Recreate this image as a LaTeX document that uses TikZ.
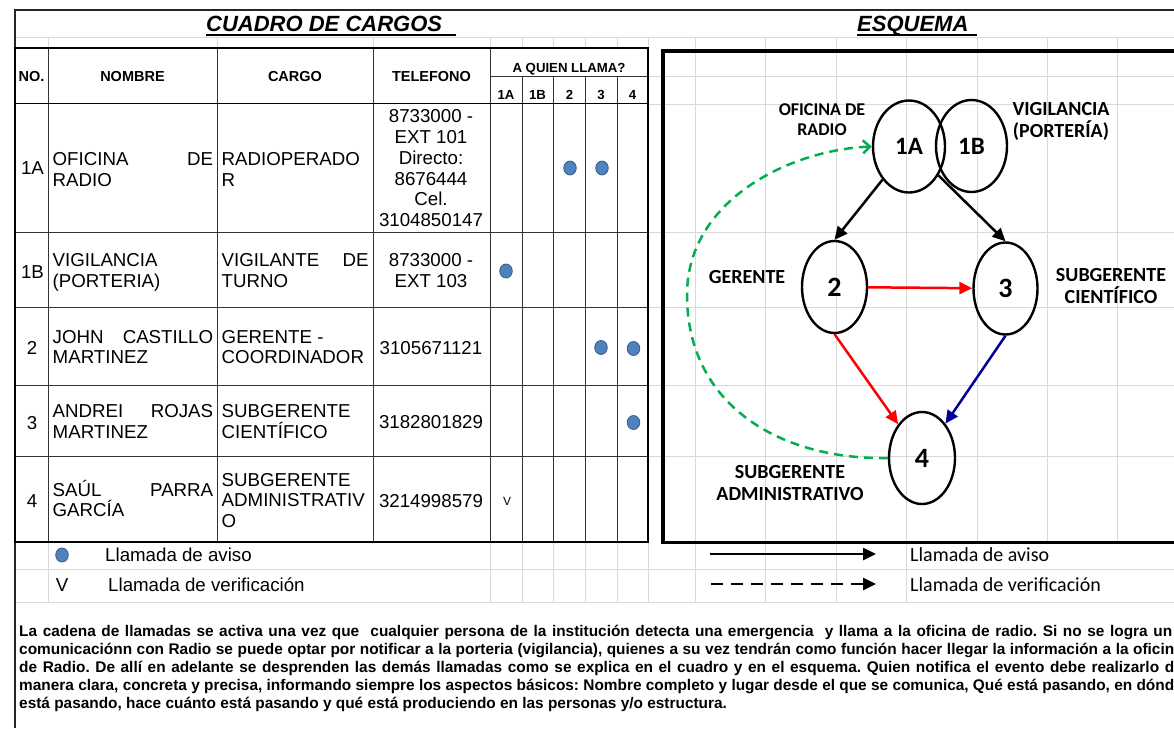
\documentclass[tikz,border=0pt]{standalone}
\usepackage{fontspec}
\setmainfont{Liberation Sans}
\newfontfamily\calibri{Carlito}
\usetikzlibrary{shapes.geometric,arrows.meta}
\frenchspacing
\definecolor{gridc}{HTML}{D9D9D9}
\definecolor{dotf}{HTML}{4F81BD}
\definecolor{dotd}{HTML}{385D8A}
\definecolor{greenc}{HTML}{00B050}
\definecolor{navyc}{HTML}{000099}
\tikzset{
  gridl/.style={draw=gridc, line width=0.9pt},
  tb/.style={draw=black, line width=1.8pt},
  ti/.style={draw=black!80, line width=1pt},
  body/.style={inner sep=0pt, font=\fontsize{18.7}{20.8}\selectfont},
  hdr/.style={inner sep=0pt, font=\bfseries\fontsize{14.5}{16}\selectfont},
  subh/.style={inner sep=0pt, font=\bfseries\fontsize{13.2}{15}\selectfont},
  ttl/.style={inner sep=0pt, font=\bfseries\itshape\fontsize{22}{24}\selectfont},
  calldot/.style={ellipse, fill=dotf, draw=dotd, line width=0.8pt, minimum width=12.6pt, minimum height=14pt, inner sep=0pt},
  elli/.style={ellipse, draw=black, line width=2.4pt, inner sep=0pt},
  onef/.style={font=\calibri\bfseries\fontsize{25}{28}\selectfont},
  numf/.style={font=\calibri\bfseries\fontsize{28}{30}\selectfont},
  lbl/.style={inner sep=0pt, font=\calibri\bfseries\fontsize{20}{22}\selectfont},
  lbls/.style={inner sep=0pt, font=\calibri\bfseries\fontsize{18}{20}\selectfont},
  leg/.style={inner sep=0pt, font=\calibri\fontsize{20}{22}\selectfont},
  para/.style={inner sep=0pt, font=\bfseries\fontsize{15.4}{18}\selectfont},
  arr/.style={line width=2.5pt, -{Triangle[length=13pt,width=12pt]}},
  greenarr/.style={draw=greenc, line width=2.5pt, dash pattern=on 9pt off 6pt, -{Straight Barb[length=7pt,width=13pt]}},
}
\begin{document}
\begin{tikzpicture}[x=1pt,y=-1pt]
\useasboundingbox (0,0) rectangle (1174,728);
\clip (0,0) rectangle (1174,728);
\fill[white] (0,0) rectangle (1174,728);

% spreadsheet grid
\draw[gridl] (15,37) -- (1174,37);
\foreach \y in {76,104,232,307,385,456} \draw[gridl] (648,\y) -- (1174,\y);
\draw[gridl] (15,569) -- (1174,569);
\draw[gridl] (15,602) -- (1174,602);
\foreach \x in {48,217,373,490,522,553,585,617,648} \draw[gridl] (\x,37) -- (\x,48);
\foreach \x in {695,765,836,906,977,1047,1117} \draw[gridl] (\x,37) -- (\x,542);
\foreach \x in {48,490,522,553,585,617,648,695,765,836,906} \draw[gridl] (\x,542) -- (\x,602);

% sheet border
\draw[draw=black!85, line width=1.3pt] (15,728) -- (15,10) -- (1174,10);

% titles
\node[ttl, anchor=base west] (tC) at (206,31.5) {CUADRO DE CARGOS};
\draw[line width=2pt] ([yshift=-3pt]tC.base west) -- ++(250,0);
\node[ttl, anchor=base west] (tE) at (857,31.5) {ESQUEMA};
\draw[line width=2pt] ([yshift=-3pt]tE.base west) -- ++(120,0);

% table lines
\foreach \x in {48,217,373,490} \draw[ti] (\x,48) -- (\x,542);
\foreach \x in {522,553,585,617} \draw[ti] (\x,76) -- (\x,542);
\draw[ti] (490,76) -- (648,76);
\foreach \y in {232,307,385,456} \draw[ti] (15,\y) -- (648,\y);
\draw[tb] (15,103.5) -- (648,103.5);
\draw[tb] (15,48) rectangle (648,542);

% header
\node[hdr, anchor=base] (hNo) at (31.5,81.2) {NO.};
\node[hdr, anchor=base] (hNom) at (132.5,81.2) {NOMBRE};
\node[hdr, anchor=base] (hCar) at (295,81.2) {CARGO};
\node[hdr, anchor=base] (hTel) at (431.5,81.2) {TELEFONO};
\node[subh, anchor=base] (hQ) at (569,72.8) {A QUIEN LLAMA?};
\node[subh, anchor=base] (hc1) at (506,99.7) {1A};
\node[subh, anchor=base] (hc2) at (537.5,99.7) {1B};
\node[subh, anchor=base] (hc3) at (569.5,99.7) {2};
\node[subh, anchor=base] (hc4) at (601,99.7) {3};
\node[subh, anchor=base] (hc5) at (632.5,99.7) {4};

% row 1A
\node[body, anchor=base] (a0) at (32.5,174.7) {1A};
\node[body, anchor=base west] (a1) at (52.5,165) {\makebox[160.5pt][s]{OFICINA DE}};
\node[body, anchor=base west] (a2) at (52.5,186) {RADIO};
\node[body, anchor=base west] (a3) at (221.5,165) {RADIOPERADO};
\node[body, anchor=base west] (a4) at (221.5,186) {R};
\node[body, anchor=base] (a5) at (431,122.7) {8733000 -};
\node[body, anchor=base] (a6) at (431,143.5) {EXT 101};
\node[body, anchor=base] (a7) at (431,164.3) {Directo:};
\node[body, anchor=base] (a8) at (431,185.1) {8676444};
\node[body, anchor=base] (a9) at (431,205.9) {Cel.};
\node[body, anchor=base] (a10) at (431,226.7) {3104850147};
\node[calldot] (ad1) at (570,168) {};
\node[calldot] (ad2) at (602,168) {};

% row 1B
\node[body, anchor=base] (b0) at (32.5,278) {1B};
\node[body, anchor=base west] (b1) at (52.5,266.6) {VIGILANCIA};
\node[body, anchor=base west] (b2) at (52.5,287) {(PORTERIA)};
\node[body, anchor=base west] (b3) at (221.5,266.6) {\makebox[147pt][s]{VIGILANTE DE}};
\node[body, anchor=base west] (b4) at (221.5,287) {TURNO};
\node[body, anchor=base] (b5) at (431,266.6) {8733000 -};
\node[body, anchor=base] (b6) at (431,287) {EXT 103};
\node[calldot] (bd1) at (506,271) {};

% row 2
\node[body, anchor=base] (c0) at (32,354.3) {2};
\node[body, anchor=base west] (c1) at (52.5,343.3) {\makebox[160.5pt][s]{JOHN CASTILLO}};
\node[body, anchor=base west] (c2) at (52.5,363.6) {MARTINEZ};
\node[body, anchor=base west] (c3) at (221.5,343.3) {GERENTE -};
\node[body, anchor=base west] (c4) at (221.5,363.6) {COORDINADOR};
\node[body, anchor=base] (c5) at (431,354.3) {3105671121};
\node[calldot] (cd1) at (601,347.5) {};
\node[calldot] (cd2) at (633.5,348.5) {};

% row 3
\node[body, anchor=base] (d0) at (32,429) {3};
\node[body, anchor=base west] (d1) at (52.5,417.6) {\makebox[160.5pt][s]{ANDREI ROJAS}};
\node[body, anchor=base west] (d2) at (52.5,438.3) {MARTINEZ};
\node[body, anchor=base west] (d3) at (221.5,417.6) {SUBGERENTE};
\node[body, anchor=base west] (d4) at (221.5,438.3) {CIENTÍFICO};
\node[body, anchor=base] (d5) at (431,428.8) {3182801829};
\node[calldot] (dd1) at (633.5,422.5) {};

% row 4
\node[body, anchor=base] (e0) at (32,507.6) {4};
\node[body, anchor=base west] (e1) at (52.5,496.6) {\makebox[160.5pt][s]{SAÚL PARRA}};
\node[body, anchor=base west] (e2) at (52.5,516.8) {GARCÍA};
\node[body, anchor=base west] (e3) at (221.5,486.6) {SUBGERENTE};
\node[body, anchor=base west] (e4) at (221.5,506.8) {ADMINISTRATIV};
\node[body, anchor=base west] (e5) at (221.5,527.3) {O};
\node[body, anchor=base] (e6) at (431,507.6) {3214998579};
\node[inner sep=0pt, font=\fontsize{12}{14}\selectfont, anchor=base] (e7) at (507,505.3) {V};

% left legend
\node[calldot] (ld) at (62,555) {};
\node[body, anchor=base west] (lt1) at (105,561.7) {Llamada de aviso};
\node[body, anchor=base] (lv) at (62,591.7) {V};
\node[body, anchor=base west] (lt2) at (108,591.7) {Llamada de verificación};

% schema frame
\draw[line width=3.6pt] (1190,51) -- (663,51) -- (663,542.3) -- (1190,542.3);

% schema nodes
\node[elli, onef, minimum width=72pt, minimum height=92pt] (n1A) at (909,146.5) {1A};
\node[elli, onef, minimum width=71pt, minimum height=92pt] (n1B) at (971.5,146) {1B};
\node[elli, numf, minimum width=65pt, minimum height=92pt] (n2) at (834.5,287) {2};
\node[elli, numf, minimum width=64pt, minimum height=92pt] (n3) at (1005.5,288.5) {3};
\node[elli, numf, minimum width=66pt, minimum height=92pt] (n4) at (922,458) {4};

% schema labels
\node[lbls, anchor=base] (L1) at (822,115) {OFICINA DE};
\node[lbls, anchor=base] (L2) at (822,135) {RADIO};
\node[lbl, anchor=base] (L3) at (1061,115.7) {VIGILANCIA};
\node[lbl, anchor=base] (L4) at (1061,137) {(PORTERÍA)};
\node[lbl, anchor=base] (L5) at (747,283.8) {GERENTE};
\node[lbl, anchor=base] (L6) at (1111,281.7) {SUBGERENTE};
\node[lbl, anchor=base] (L7) at (1111,303.3) {CIENTÍFICO};
\node[lbl, anchor=base] (L8) at (790,478.3) {SUBGERENTE};
\node[lbl, anchor=base] (L9) at (790,500) {ADMINISTRATIVO};

% schema arrows
\draw[arr] (n1A) -- (n2.north);
\draw[arr] (n1A) -- (n3.north);
\draw[arr, red] (n2) -- (n3);
\draw[arr, red] (n2.south) -- (n4);
\draw[arr, navyc] (n3.south) -- (n4);
\draw[greenarr] (n4.west) .. controls (780,460) and (687,405) .. (687,295) .. controls (687,200) and (790,150) .. (n1A.west);

% right legend
\coordinate (r1s) at (710,554);
\coordinate (r1e) at (876,554);
\coordinate (r2s) at (711,584);
\coordinate (r2e) at (876,584);
\draw[arr] (r1s) -- (r1e);
\draw[arr, dash pattern=on 12pt off 8pt] (r2s) -- (r2e);
\node[leg, anchor=base west] (rt1) at (910,561.4) {Llamada de aviso};
\node[leg, anchor=base west] (rt2) at (910,591.4) {Llamada de verificación};

% paragraph
\node[para, anchor=base west] (p1) at (19,636.5) {\makebox[1153pt][s]{La cadena de llamadas se activa una vez que\ \ cualquier persona de la institución detecta una emergencia\ \ y llama a la oficina de radio. Si no se logra un}};
\node[para, anchor=base west] (p2) at (19,654.5) {\makebox[1155pt][s]{comunicaciónn con Radio se puede optar por notificar a la porteria (vigilancia), quienes a su vez tendrán como función hacer llegar la información a la oficin}};
\node[para, anchor=base west] (p3) at (19,672.5) {\makebox[1155pt][s]{de Radio. De allí en adelante se desprenden las demás llamadas como se explica en el cuadro y en el esquema. Quien notifica el evento debe realizarlo d}};
\node[para, anchor=base west] (p4) at (19,690.5) {\makebox[1155pt][s]{manera clara, concreta y precisa, informando siempre los aspectos básicos: Nombre completo y lugar desde el que se comunica, Qué está pasando, en dónd}};
\node[para, anchor=base west] (p5) at (19,708.5) {está pasando, hace cuánto está pasando y qué está produciendo en las personas y/o estructura.};
\end{tikzpicture}
\end{document}
